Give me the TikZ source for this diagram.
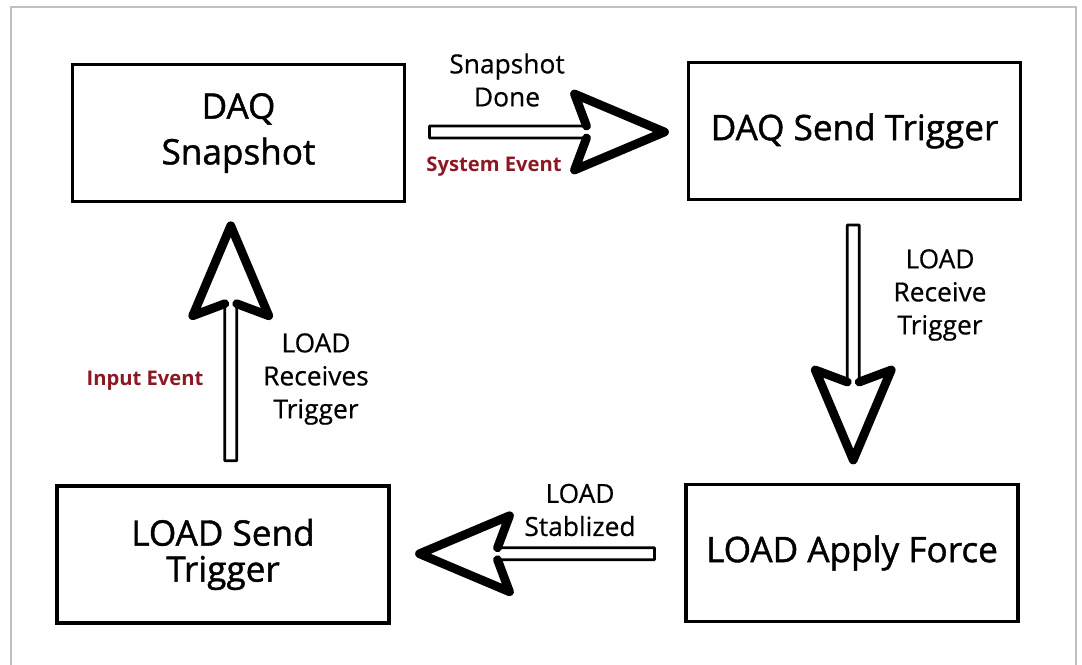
\documentclass[tikz,border=0pt]{standalone}
\usepackage{fontspec}
\setmainfont{Open Sans}
\newfontfamily\boxfont[FakeBold=1.2]{Open Sans}
\newfontfamily\labelfont[FakeBold=0.5]{Open Sans}
\definecolor{eventRed}{RGB}{140, 24, 36}
\definecolor{frameGray}{RGB}{192, 192, 192}
\tikzset{
  statebox/.style={draw,line width=2pt,minimum width=6.64cm,minimum height=2.74cm,align=center,font=\boxfont\fontsize{20}{26}\selectfont},
  steplabel/.style={align=center,font=\labelfont\fontsize{15}{18.8}\selectfont},
  eventlabel/.style={text=eventRed,font=\bfseries\fontsize{11.5}{13}\selectfont},
  pics/hollowarrow/.style={code={
    \draw[line width=1.6pt,fill=white,line join=round] (-117,-6) -- (40,-6) -- (28,-38) -- (118,0) -- (28,38) -- (40,6) -- (-117,6) -- cycle;
    \draw[line width=5pt,line join=round,line cap=round] (40,-6) -- (28,-38) -- (118,0) -- (28,38) -- (40,6);
  }}
}
\begin{document}
\begin{tikzpicture}[x=0.02cm,y=-0.02cm]
      \useasboundingbox (0,0) rectangle (1082,665);
      \draw[frameGray,line width=1.2pt] (11,665) -- (11,7) -- (1076,7) -- (1076,665);

      % State boxes
      \node[statebox] (snap) at (238.5,133) {DAQ\\Snapshot};
      \node[statebox] (send) at (854.5,131) {DAQ Send Trigger};
      \node[statebox] (force) at (852,553) {LOAD Apply Force};
      \node[statebox,font=\boxfont\fontsize{20}{20.5}\selectfont] (loadsend) at (223,554.5) {LOAD Send\\Trigger};

      % Transitions
      \path (snap) -- (send) pic[pos=.5]{hollowarrow};
      \path (send) -- (force) pic[pos=.5,rotate=-90]{hollowarrow};
      \path (force) -- (loadsend) pic[pos=.5,rotate=180]{hollowarrow};
      \path (loadsend) -- (snap) pic[pos=.5,rotate=90]{hollowarrow};

      % Transition labels
      \node[steplabel] (donelbl) at (507,80) {Snapshot\\Done};
      \node[eventlabel] (syslbl) at (494,167) {System Event};
      \node[steplabel] (recvlbl) at (940,295) {LOAD\\Receive\\Trigger};
      \node[steplabel] (recslbl) at (316,379) {LOAD\\Receives\\Trigger};
      \node[eventlabel] (inlbl) at (145,381) {Input Event};
      \node[steplabel] (stablbl) at (580,510) {LOAD\\Stablized};
    \end{tikzpicture}
\end{document}
